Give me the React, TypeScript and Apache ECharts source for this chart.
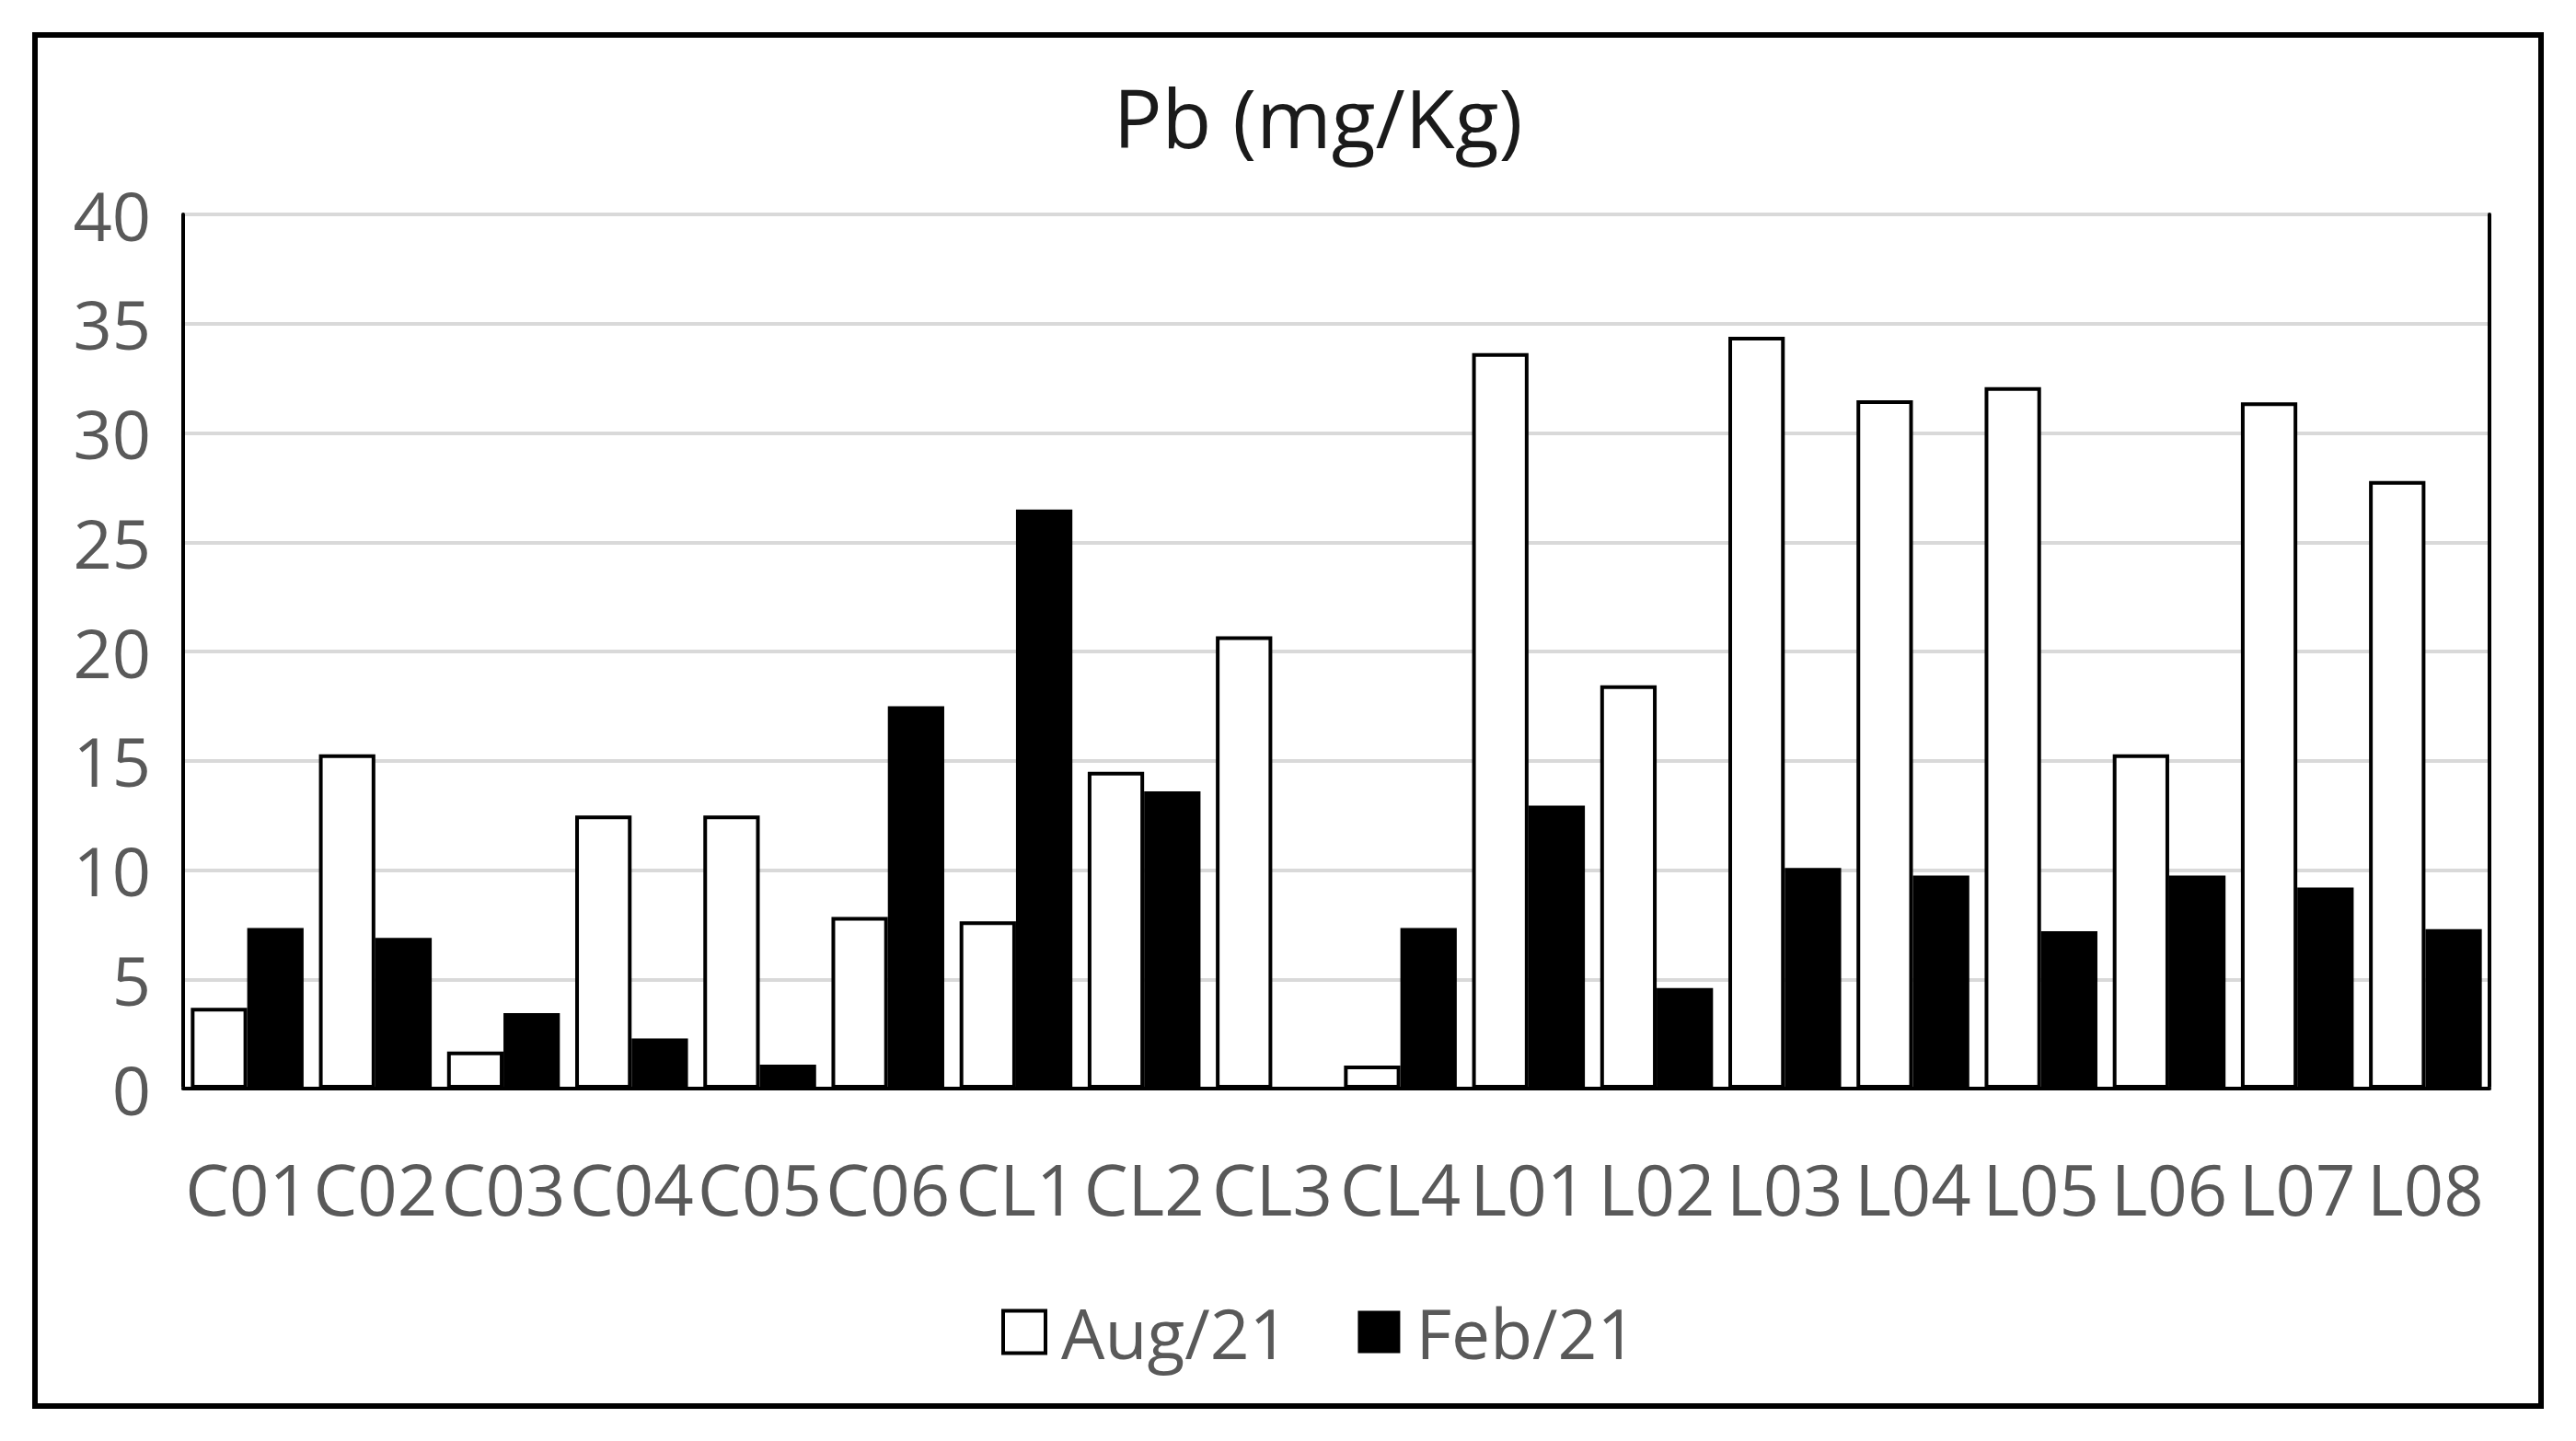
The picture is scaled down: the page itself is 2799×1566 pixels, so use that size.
import React, { useEffect, useRef } from "react";
import * as echarts from "echarts";

const categories = ["C01","C02","C03","C04","C05","C06","CL1","CL2","CL3","CL4","L01","L02","L03","L04","L05","L06","L07","L08"];
const aug21 = [3.7,15.3,1.7,12.5,12.5,7.85,7.65,14.5,20.7,1.05,33.65,18.45,34.4,31.5,32.1,15.3,31.4,27.8];
const feb21 = [7.35,6.9,3.45,2.3,1.1,17.5,26.5,13.6,0,7.35,12.95,4.6,10.1,9.75,7.2,9.75,9.2,7.3];
const seriesNames = ["Aug/21","Feb/21"];
const titleText = "Pb (mg/Kg)";

const FONT = "'Open Sans', 'Noto Sans', sans-serif";

export default function App() {
  const ref = useRef<HTMLDivElement>(null);
  useEffect(() => {
    if (!ref.current) return;
    const chart = echarts.init(ref.current, null, { renderer: "svg" });
    chart.setOption({
      animation: false,
      backgroundColor: "#ffffff",
      title: {
        text: titleText,
        left: 1427,
        textAlign: "center",
        top: 78,
        textStyle: { fontSize: 88, fontWeight: "normal", color: "#1a1a1a", fontFamily: FONT },
      },
      legend: {
        left: 1083,
        top: 1405,
        itemWidth: 46,
        itemHeight: 46,
        itemGap: 75,
        icon: "rect",
        textStyle: { fontSize: 75, color: "#595959", fontFamily: FONT, padding: [0, 0, 0, 12] },
        data: [
          { name: seriesNames[0], itemStyle: { color: "#ffffff", borderColor: "#000000", borderWidth: 4 } },
          { name: seriesNames[1], itemStyle: { color: "#000000", borderWidth: 0 } },
        ],
      },
      grid: { left: 199, right: 94, top: 233, bottom: 383, containLabel: false },
      xAxis: [
        {
          type: "category",
          data: categories,
          position: "bottom",
          axisLine: { show: true, lineStyle: { color: "#d9d9d9", width: 4 } },
          axisTick: { show: false },
          axisLabel: { interval: 0, fontSize: 76, color: "#595959", margin: 70, fontFamily: FONT },
        },
        {
          type: "category",
          data: categories,
          position: "top",
          axisLine: { show: true, lineStyle: { color: "#000000", width: 4 } },
          axisTick: { show: false },
          axisLabel: { show: false },
        },
      ],
      yAxis: [
        {
          type: "value",
          min: 0,
          max: 40,
          interval: 5,
          position: "left",
          axisLine: { show: true, lineStyle: { color: "#000000", width: 4 } },
          axisTick: { show: false },
          splitLine: { show: true, lineStyle: { color: "#d9d9d9", width: 4 } },
          axisLabel: { fontSize: 74, color: "#595959", margin: 35, fontFamily: FONT },
        },
        {
          type: "value",
          min: 0,
          max: 40,
          interval: 5,
          position: "right",
          axisLine: { show: true, lineStyle: { color: "#000000", width: 4 } },
          axisTick: { show: false },
          splitLine: { show: false },
          axisLabel: { show: false },
        },
      ],
      series: [
        {
          name: seriesNames[0],
          type: "bar",
          data: aug21,
          barGap: "0%",
          barCategoryGap: "12%",
          itemStyle: { color: "#ffffff", borderColor: "#000000", borderWidth: 4 },
        },
        {
          name: seriesNames[1],
          type: "bar",
          data: feb21,
          barGap: "0%",
          barCategoryGap: "12%",
          itemStyle: { color: "#000000" },
        },
      ],
      graphic: [
        {
          type: "rect",
          z: 100,
          shape: { x: 38, y: 38, width: 2723, height: 1490 },
          style: { fill: "none", stroke: "#000000", lineWidth: 6 },
        },
      ],
    });
    return () => chart.dispose();
  }, []);
  return (
    <div
      ref={ref}
      style={{ position: "fixed", left: 0, top: 0, width: 2799, height: 1566 }}
    />
  );
}
